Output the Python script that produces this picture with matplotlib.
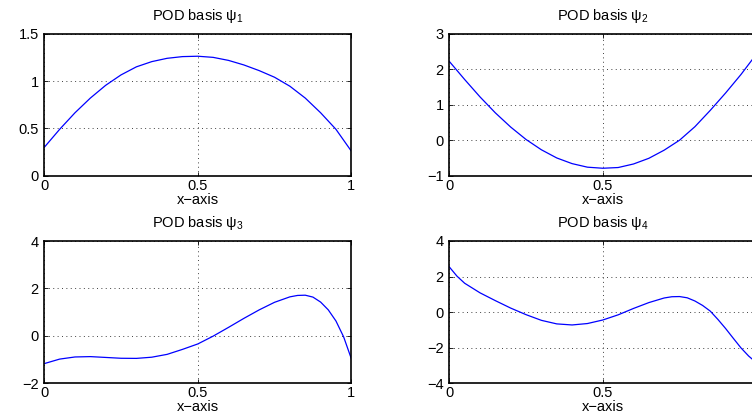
import numpy as np
import matplotlib
matplotlib.use("Agg")
import matplotlib.pyplot as plt

plt.rcParams['font.family'] = ['Liberation Sans', 'DejaVu Sans']
plt.rcParams['mathtext.fontset'] = 'custom'
plt.rcParams['mathtext.rm'] = 'Liberation Sans'
plt.rcParams['mathtext.it'] = 'Liberation Sans'

# values
x = [0.0, 0.05, 0.1, 0.15, 0.2, 0.25, 0.3, 0.35, 0.4, 0.45, 0.5,
     0.55, 0.6, 0.65, 0.7, 0.75, 0.8, 0.85, 0.9, 0.95, 1.0]
psi1 = [0.30, 0.49, 0.665, 0.82, 0.955, 1.065, 1.15, 1.205, 1.24, 1.258, 1.262,
        1.25, 1.218, 1.17, 1.11, 1.04, 0.945, 0.82, 0.665, 0.49, 0.26]
psi2 = [2.22, 1.71, 1.22, 0.77, 0.37, 0.02, -0.27, -0.50, -0.66, -0.76, -0.79,
        -0.77, -0.67, -0.51, -0.28, 0.0, 0.38, 0.84, 1.33, 1.85, 2.42]

x3 = [0.0, 0.05, 0.1, 0.15, 0.2, 0.25, 0.3, 0.35, 0.4, 0.45, 0.5, 0.55, 0.6,
      0.65, 0.7, 0.75, 0.8, 0.825, 0.85, 0.875, 0.9, 0.925, 0.95, 0.975, 1.0]
psi3 = [-1.18, -0.99, -0.90, -0.885, -0.92, -0.955, -0.96, -0.91, -0.79, -0.58,
        -0.35, -0.02, 0.35, 0.73, 1.09, 1.41, 1.64, 1.70, 1.71, 1.63, 1.42,
        1.09, 0.62, -0.05, -0.97]

x4 = [0.0, 0.025, 0.05, 0.1, 0.15, 0.2, 0.25, 0.3, 0.35, 0.4, 0.45, 0.5, 0.55,
      0.6, 0.65, 0.7, 0.725, 0.75, 0.775, 0.8, 0.825, 0.85, 0.875, 0.9, 0.925,
      0.95, 0.975, 1.0]
psi4 = [2.54, 2.02, 1.62, 1.08, 0.64, 0.22, -0.15, -0.47, -0.67, -0.73, -0.65,
        -0.45, -0.16, 0.20, 0.53, 0.79, 0.86, 0.87, 0.80, 0.62, 0.37, 0.05,
        -0.42, -0.93, -1.48, -2.02, -2.48, -2.85]

panels = [
    (x, psi1, 1, (0, 1.5), [0, 0.5, 1, 1.5], ['0', '0.5', '1', '1.5']),
    (x, psi2, 2, (-1, 3), [-1, 0, 1, 2, 3], None),
    (x3, psi3, 3, (-2, 4), [-2, 0, 2, 4], None),
    (x4, psi4, 4, (-4, 4), [-4, -2, 0, 2, 4], None),
]

W, H = 752, 419
fig = plt.figure(figsize=(W / 100, H / 100), dpi=100)

lefts = [44.3, 449.3]
tops = [33.7, 241.0]
aw, ah = 307.0, 142.0
fs = 10.5

for i, (xs, ys, k, ylim, yticks, ylabels) in enumerate(panels):
    left = lefts[i % 2]
    top = tops[i // 2]
    ax = fig.add_axes([left / W, 1 - (top + ah) / H, aw / W, ah / H])
    ax.plot(xs, ys, color='#0000ff', lw=0.9)
    ax.set_xlim(0, 1)
    ax.set_ylim(*ylim)
    ax.set_xticks([0, 0.5, 1])
    # the right column is cut at the figure edge, so its "1" is not visible
    ax.set_xticklabels(['0', '0.5', '1'] if i % 2 == 0 else ['0', '0.5', ''])
    ax.set_yticks(yticks)
    if ylabels:
        ax.set_yticklabels(ylabels)
    ax.grid(True, color='0.25', linestyle=(0, (1, 3.5)), lw=0.7)
    ax.tick_params(direction='in', length=3, width=0.6, top=True, right=True,
                   labelsize=fs, pad=2.5)
    ax.tick_params(axis='y', pad=4)
    for s in ax.spines.values():
        s.set_linewidth(1.2)
        s.set_color('black')
    ax.set_title(r'POD basis $\mathregular{\psi_%d}$' % k, fontsize=fs, pad=10)
    ax.set_xlabel('x\u2212axis', fontsize=fs, labelpad=0)

fig.savefig('out.png', dpi=100)
